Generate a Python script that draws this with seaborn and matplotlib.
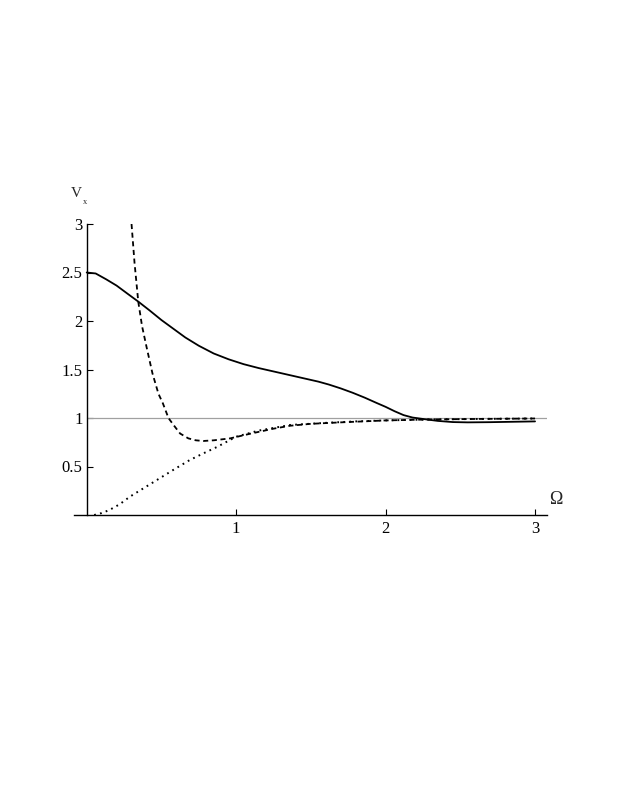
import numpy as np
import pandas as pd
import matplotlib
matplotlib.use('agg')
import matplotlib.pyplot as plt
import seaborn as sns

# curve values
omega_solid = [0, 0.06, 0.13, 0.2, 0.27, 0.345, 0.42, 0.5, 0.58, 0.66, 0.75, 0.85, 0.95, 1.05,
               1.15, 1.25, 1.35, 1.45, 1.55, 1.62, 1.7, 1.78, 1.86, 1.94, 2.0, 2.06, 2.12, 2.18,
               2.25, 2.35, 2.45, 2.55, 2.7, 2.85, 3.0]
v_solid = [2.50, 2.49, 2.43, 2.365, 2.285, 2.20, 2.11, 2.01, 1.92, 1.83, 1.745, 1.665, 1.605,
           1.555, 1.515, 1.48, 1.445, 1.41, 1.375, 1.345, 1.305, 1.26, 1.21, 1.155, 1.115, 1.07,
           1.03, 1.005, 0.99, 0.97, 0.958, 0.955, 0.957, 0.961, 0.965]

omega_dashed = [0.30, 0.32, 0.345, 0.37, 0.40, 0.44, 0.48, 0.51, 0.547, 0.58, 0.625, 0.68, 0.73,
                0.78, 0.85, 0.96, 1.1, 1.25, 1.36, 1.5, 1.7, 2.0, 2.3, 2.6, 3.0]
v_dashed = [3.0, 2.6, 2.2, 1.95, 1.735, 1.46, 1.25, 1.15, 1.0, 0.93, 0.84, 0.79, 0.77, 0.763,
            0.77, 0.79, 0.84, 0.89, 0.92, 0.94, 0.955, 0.975, 0.985, 0.99, 0.995]

omega_dotted = [0.05, 0.1, 0.15, 0.22, 0.29, 0.39, 0.49, 0.59, 0.69, 0.78, 0.87, 1.0, 1.15, 1.36,
                1.6, 1.8, 2.0, 2.3, 2.6, 3.0]
v_dotted = [0.0, 0.02, 0.05, 0.11, 0.19, 0.285, 0.38, 0.475, 0.567, 0.635, 0.70, 0.807, 0.87,
            0.928, 0.95, 0.965, 0.975, 0.985, 0.99, 0.995]

y_ticks = [0.5, 1, 1.5, 2, 2.5, 3]
y_labels = ['0.5', '1', '1.5', '2', '2.5', '3']
x_ticks = [1, 2, 3]
x_labels = ['1', '2', '3']

sns.set_style('ticks')
plt.rcParams['font.family'] = ['Liberation Serif', 'DejaVu Serif']

fig = plt.figure(figsize=(6.23, 8.06), dpi=100)
ax = fig.add_axes([74 / 623, 291 / 806, 473 / 623, 291 / 806])

ax.hlines(1, 0, 3.08, color='#a0a0a0', lw=0.9, zorder=1)

sns.lineplot(x=omega_solid, y=v_solid, ax=ax, color='black', lw=1.3, sort=False, estimator=None)
sns.lineplot(x=omega_dashed, y=v_dashed, ax=ax, color='black', lw=1.3, sort=False,
             estimator=None)
ax.lines[-1].set_dashes((2.8, 2.0))
sns.lineplot(x=omega_dotted, y=v_dotted, ax=ax, color='black', lw=1.4, sort=False,
             estimator=None)
ax.lines[-1].set_dashes((0.9, 2.2))

ax.set_xlim(-0.085, 3.08)
ax.set_ylim(0, 3)
ax.spines['left'].set_position(('data', 0))
ax.spines['top'].set_visible(False)
ax.spines['right'].set_visible(False)
for s in ['left', 'bottom']:
    ax.spines[s].set_linewidth(1.0)
    ax.spines[s].set_color('black')

ax.set_yticks(y_ticks)
ax.set_yticklabels(y_labels)
ax.set_xticks(x_ticks)
ax.set_xticklabels(x_labels)
ax.tick_params(direction='in', length=4, width=0.8, labelsize=12, colors='black')
ax.tick_params(axis='y', pad=3)
ax.tick_params(axis='x', pad=4)

ax.text(-0.067, 3.314, 'V', fontsize=11, ha='center', va='center', clip_on=False)
ax.text(-0.01, 3.227, 'x', fontsize=6, ha='center', va='center', clip_on=False)
ax.text(3.14, 0.155, 'Ω', fontsize=13, ha='center', va='center', clip_on=False)

fig.savefig('out.png', dpi=100)
plt.close()
